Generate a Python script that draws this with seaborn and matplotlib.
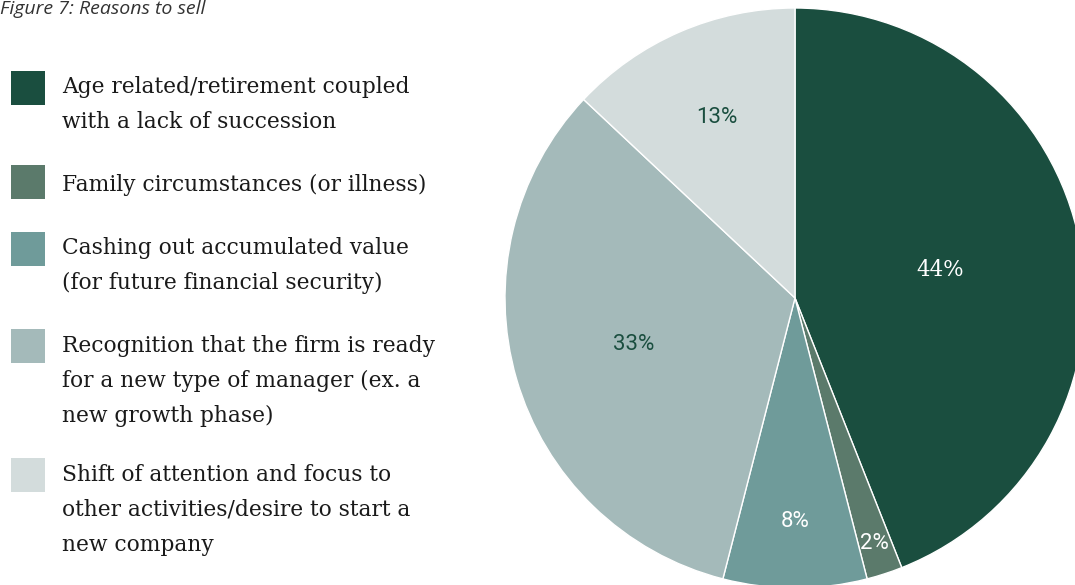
import numpy as np
import matplotlib
matplotlib.use("Agg")
import matplotlib.pyplot as plt
from matplotlib.patches import Rectangle
import seaborn as sns

categories = [
    "Age related/retirement coupled\nwith a lack of succession",
    "Family circumstances (or illness)",
    "Cashing out accumulated value\n(for future financial security)",
    "Recognition that the firm is ready\nfor a new type of manager (ex. a\nnew growth phase)",
    "Shift of attention and focus to\nother activities/desire to start a\nnew company",
]
values = [44, 2, 8, 33, 13]
pct_labels = ["44%", "2%", "8%", "33%", "13%"]
colors = ["#1a4e3f", "#5b7a6b", "#6f9b9a", "#a4baba", "#d3dcdc"]
label_colors = ["white", "white", "white", "#1a4e3f", "#1a4e3f"]
label_fonts = [["DejaVu Serif"], ["Roboto"], ["Roboto"], ["Roboto"], ["Roboto"]]
label_radii = [0.51, 0.89, 0.77, 0.58, 0.68]

sns.set_theme(style="white")
plt.rcParams["font.family"] = ["DejaVu Serif"]

W, H = 1075, 585
fig = plt.figure(figsize=(W / 100, H / 100), dpi=100)
fig.patch.set_facecolor("white")

cx, cy, r = 795, 298, 290
ax = fig.add_axes([(cx - r) / W, (H - cy - r) / H, 2 * r / W, 2 * r / H])
wedges, _ = ax.pie(values, colors=colors, startangle=90, counterclock=False,
                   radius=1.0, wedgeprops=dict(edgecolor="white", linewidth=1.0))
ax.set_xlim(-1, 1)
ax.set_ylim(-1, 1)
ax.set_aspect("equal")
ax.axis("off")

for w, lab, col, rr, fam in zip(wedges, pct_labels, label_colors, label_radii, label_fonts):
    ang = np.deg2rad((w.theta1 + w.theta2) / 2)
    ax.text(rr * np.cos(ang), rr * np.sin(ang), lab, ha="center", va="center",
            fontsize=16 if fam[0] == "Roboto" else 15.5, color=col,
            family=fam + ["DejaVu Sans"])

# title (at the very top in reference)
fig.text(0.0, 1.0, "Figure 7: Reasons to sell", ha="left", va="top",
         fontsize=14, style="italic", color="#333333", family=["Open Sans", "DejaVu Sans"])

# legend
sq_tops = [71, 165, 232, 329, 458]
text_tops = [76, 174, 237, 335, 464]
sq = 34
for cat, col, st, tt in zip(categories, colors, sq_tops, text_tops):
    fig.patches.append(Rectangle((11 / W, (H - st - sq) / H), sq / W, sq / H,
                                 transform=fig.transFigure, facecolor=col,
                                 edgecolor="none", figure=fig))
    fig.text(62 / W, (H - tt) / H, cat, ha="left", va="top", fontsize=15.7,
             color="#1a1a1a", linespacing=1.75)

fig.savefig("out.png", dpi=100)
